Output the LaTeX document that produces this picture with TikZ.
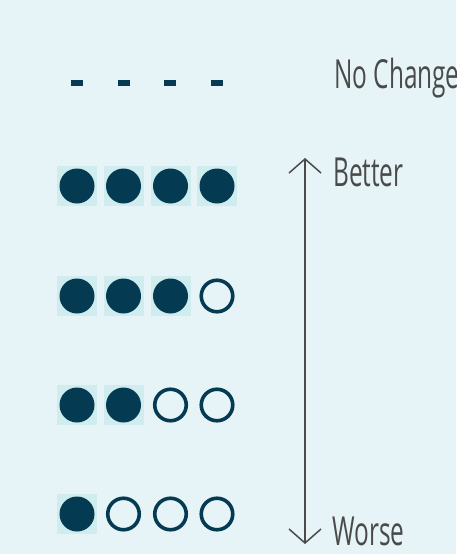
\documentclass[tikz,border=0pt]{standalone}
\usepackage{fontspec}
\newfontfamily\lblfont[FakeStretch=0.61]{Open Sans}
\usetikzlibrary{arrows.meta}
\definecolor{bgc}{HTML}{E6F4F8}
\definecolor{sqc}{HTML}{CFECEF}
\definecolor{dark}{HTML}{053B52}
\definecolor{txt}{HTML}{4A4A4A}
\tikzset{
  sq/.style={fill=sqc, draw=none, minimum size=40pt, inner sep=0pt},
  full/.style={circle, fill=dark, minimum size=35pt, inner sep=0pt},
  empty/.style={circle, draw=dark, line width=3.6pt, minimum size=31.5pt, inner sep=0pt},
  dashm/.style={fill=dark, draw=none, minimum width=12pt, minimum height=6pt, inner sep=0pt},
  lbl/.style={anchor=base west, text=txt, font=\lblfont\fontsize{40}{42}\selectfont, inner sep=0pt},
}
\begin{document}
\begin{tikzpicture}[x=1pt,y=-1pt]
\fill[bgc] (0,0) rectangle (456,554);
\useasboundingbox (0,0) rectangle (456,554);
\clip (0,0) rectangle (456,554);
% dashes
\foreach \i/\x in {1/77,2/124,3/170,4/217} {
  \node[dashm] (d\i) at (\x,83) {};
}
% rows
\foreach \r/\y/\n in {1/186/4,2/296/3,3/405/2,4/514/1} {
  \foreach \i/\x in {1/77,2/123.5,3/170.5,4/217} {
    \ifnum\i>\n
      \node[empty] (c\r\i) at (\x,\y) {};
    \else
      \node[sq] (s\r\i) at (\x,\y) {};
      \node[full] (c\r\i) at (\x,\y) {};
    \fi
  }
}
\coordinate (top) at (305,158);
\coordinate (bot) at (305,544);
\draw[txt, line width=1.5pt, {Straight Barb[length=14pt,width=32pt,line width=1.5pt]}-{Straight Barb[length=14pt,width=32pt,line width=1.5pt]}] (top) -- (bot);
\node[lbl] (nc) at (334,88) {No Change};
\node[lbl] (better) at (333,186) {Better};
\node[lbl] (worse) at (332,545) {Worse};
\end{tikzpicture}
\end{document}
